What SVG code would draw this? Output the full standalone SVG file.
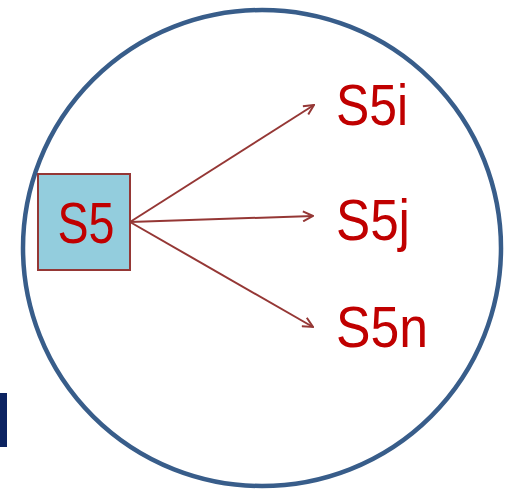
<svg xmlns="http://www.w3.org/2000/svg" width="512" height="492" viewBox="0 0 512 492">
<style>
.lbl{font-family:"Liberation Sans",Arial,sans-serif;font-size:57px;fill:#C00000}
.conn{stroke:#953735;stroke-width:2;fill:none}
</style>
<defs>
<marker id="ah" viewBox="0 0 12 12" refX="11" refY="6" markerWidth="12" markerHeight="12" markerUnits="userSpaceOnUse" orient="auto">
<path d="M1,1 L11,6 L1,11" fill="none" stroke="#953735" stroke-width="2"/>
</marker>
</defs>
<rect x="0" y="393" width="7" height="54" fill="#0C2361"/>
<g id="boundary">
<ellipse cx="262" cy="248" rx="239" ry="238" fill="none" stroke="#385D8A" stroke-width="4.5"/>
</g>
<g id="connectors">
<line class="conn" x1="130" y1="222" x2="314" y2="105" marker-end="url(#ah)"/>
<line class="conn" x1="130" y1="222" x2="313" y2="216" marker-end="url(#ah)"/>
<line class="conn" x1="130" y1="222" x2="313" y2="327" marker-end="url(#ah)"/>
</g>
<g id="S5">
<rect x="38" y="174" width="92" height="96" fill="#93CDDD" stroke="#953735" stroke-width="2"/>
<text class="lbl" x="86" y="243" text-anchor="middle" textLength="57" lengthAdjust="spacingAndGlyphs">S5</text>
</g>
<g id="S5i"><text class="lbl" x="336" y="125" textLength="72" lengthAdjust="spacingAndGlyphs">S5i</text></g>
<g id="S5j"><text class="lbl" x="336" y="240" textLength="74" lengthAdjust="spacingAndGlyphs">S5j</text></g>
<g id="S5n"><text class="lbl" x="336" y="347" textLength="92" lengthAdjust="spacingAndGlyphs">S5n</text></g>
</svg>
